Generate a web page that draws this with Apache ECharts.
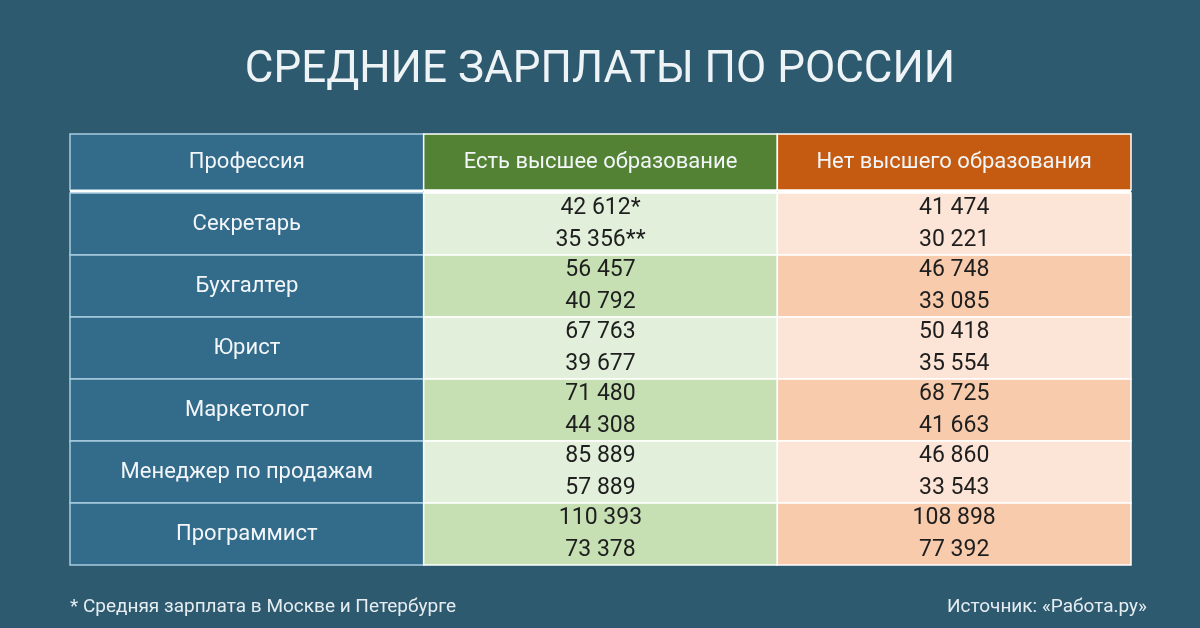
<!DOCTYPE html>
<html><head><meta charset="utf-8">
<script src="https://cdn.jsdelivr.net/npm/echarts@6/dist/echarts.min.js"></script>
<style>html,body{margin:0;padding:0;background:#2e5a70}#c{width:1200px;height:628px}</style>
</head><body><div id="c"></div>
<script>
const headers = ['Профессия','Есть высшее образование','Нет высшего образования'];
const professions = ['Секретарь','Бухгалтер','Юрист','Маркетолог','Менеджер по продажам','Программист'];
const higherMoscow = ['42 612*','56 457','67 763','71 480','85 889','110 393'];
const higherRussia = ['35 356**','40 792','39 677','44 308','57 889','73 378'];
const noHigherMoscow = ['41 474','46 748','50 418','68 725','46 860','108 898'];
const noHigherRussia = ['30 221','33 085','35 554','41 663','33 543','77 392'];

const HEAD = 59, ROW = 62;
const data = [];
headers.forEach((h,i)=>data.push([i, 0, HEAD, 'h'+i, h, '']));
professions.forEach((p,r)=>{
  const y0 = HEAD + r*ROW, y1 = y0 + ROW;
  data.push([0,y0,y1,'p',p,'']);
  data.push([1,y0,y1,'g'+(r%2),higherMoscow[r],higherRussia[r]]);
  data.push([2,y0,y1,'o'+(r%2),noHigherMoscow[r],noHigherRussia[r]]);
});
const fills = {h0:'#336b8b',h1:'#548235',h2:'#c55a11',p:'#336b8b',g0:'#e2efda',g1:'#c6e0b4',o0:'#fce4d6',o1:'#f8cbad'};
const font = '"Roboto","Noto Sans",sans-serif';

const chart = echarts.init(document.getElementById('c'));
chart.setOption({
  backgroundColor:'#2e5a70',
  animation:false,
  title:{text:'СРЕДНИЕ ЗАРПЛАТЫ ПО РОССИИ',left:'center',top:44,
    textStyle:{color:'#eef3f6',fontSize:44,fontWeight:'normal',fontFamily:font,letterSpacing:3}},
  grid:{left:70,right:69,top:134,bottom:63},
  xAxis:{type:'value',min:0,max:3,show:false},
  yAxis:{type:'value',min:0,max:HEAD+6*ROW,inverse:true,show:false},
  graphic:[
    {type:'text',left:70,top:598,style:{text:'* Средняя зарплата в Москве и Петербурге',fill:'#e6edf1',font:'19px '+font,letterSpacing:0.5}},
    {type:'text',right:53,top:598,style:{text:'Источник: «Работа.ру»',fill:'#e6edf1',font:'19px '+font,letterSpacing:0.5}}
  ],
  series:[{
    type:'custom',
    data:data,
    renderItem:(params,api)=>{
      const c = api.value(0), y0 = api.value(1), y1 = api.value(2);
      const d = data[params.dataIndex];
      const kind = d[3];
      const p0 = api.coord([c,y0]), p1 = api.coord([c+1,y1]);
      const x = p0[0], y = p0[1], w = p1[0]-p0[0];
      let h = p1[1]-p0[1];
      const isHead = kind[0]==='h';
      const children = [];
      const hh = isHead ? h-3 : h;
      children.push({type:'rect',shape:{x:x,y:y,width:w,height:hh},
        style:{fill:fills[kind], stroke: (kind==='p'||kind==='h0')?'#a9cbe0':'#ffffff', lineWidth:1.5}});
      if(isHead){
        children.push({type:'rect',shape:{x:x,y:y+h-3,width:w,height:3},style:{fill:'#ffffff'}});
      }
      const white = isHead || kind==='p';
      if(d[5]===''){
        children.push({type:'text',style:{text:d[4],x:x+w/2,y:y+hh/2,align:'center',verticalAlign:'middle',
          fill: white?'#f2f6f8':'#1e1e1e',font:'22px '+font,letterSpacing:1}});
      } else {
        children.push({type:'text',style:{text:d[4],x:x+w/2,y:y+h*0.25,align:'center',verticalAlign:'middle',fill:'#1e1e1e',font:'23px '+font,letterSpacing:0.5}});
        children.push({type:'text',style:{text:d[5],x:x+w/2,y:y+h*0.76,align:'center',verticalAlign:'middle',fill:'#1e1e1e',font:'23px '+font,letterSpacing:0.5}});
      }
      return {type:'group',children:children};
    }
  }]
});
</script></body></html>
